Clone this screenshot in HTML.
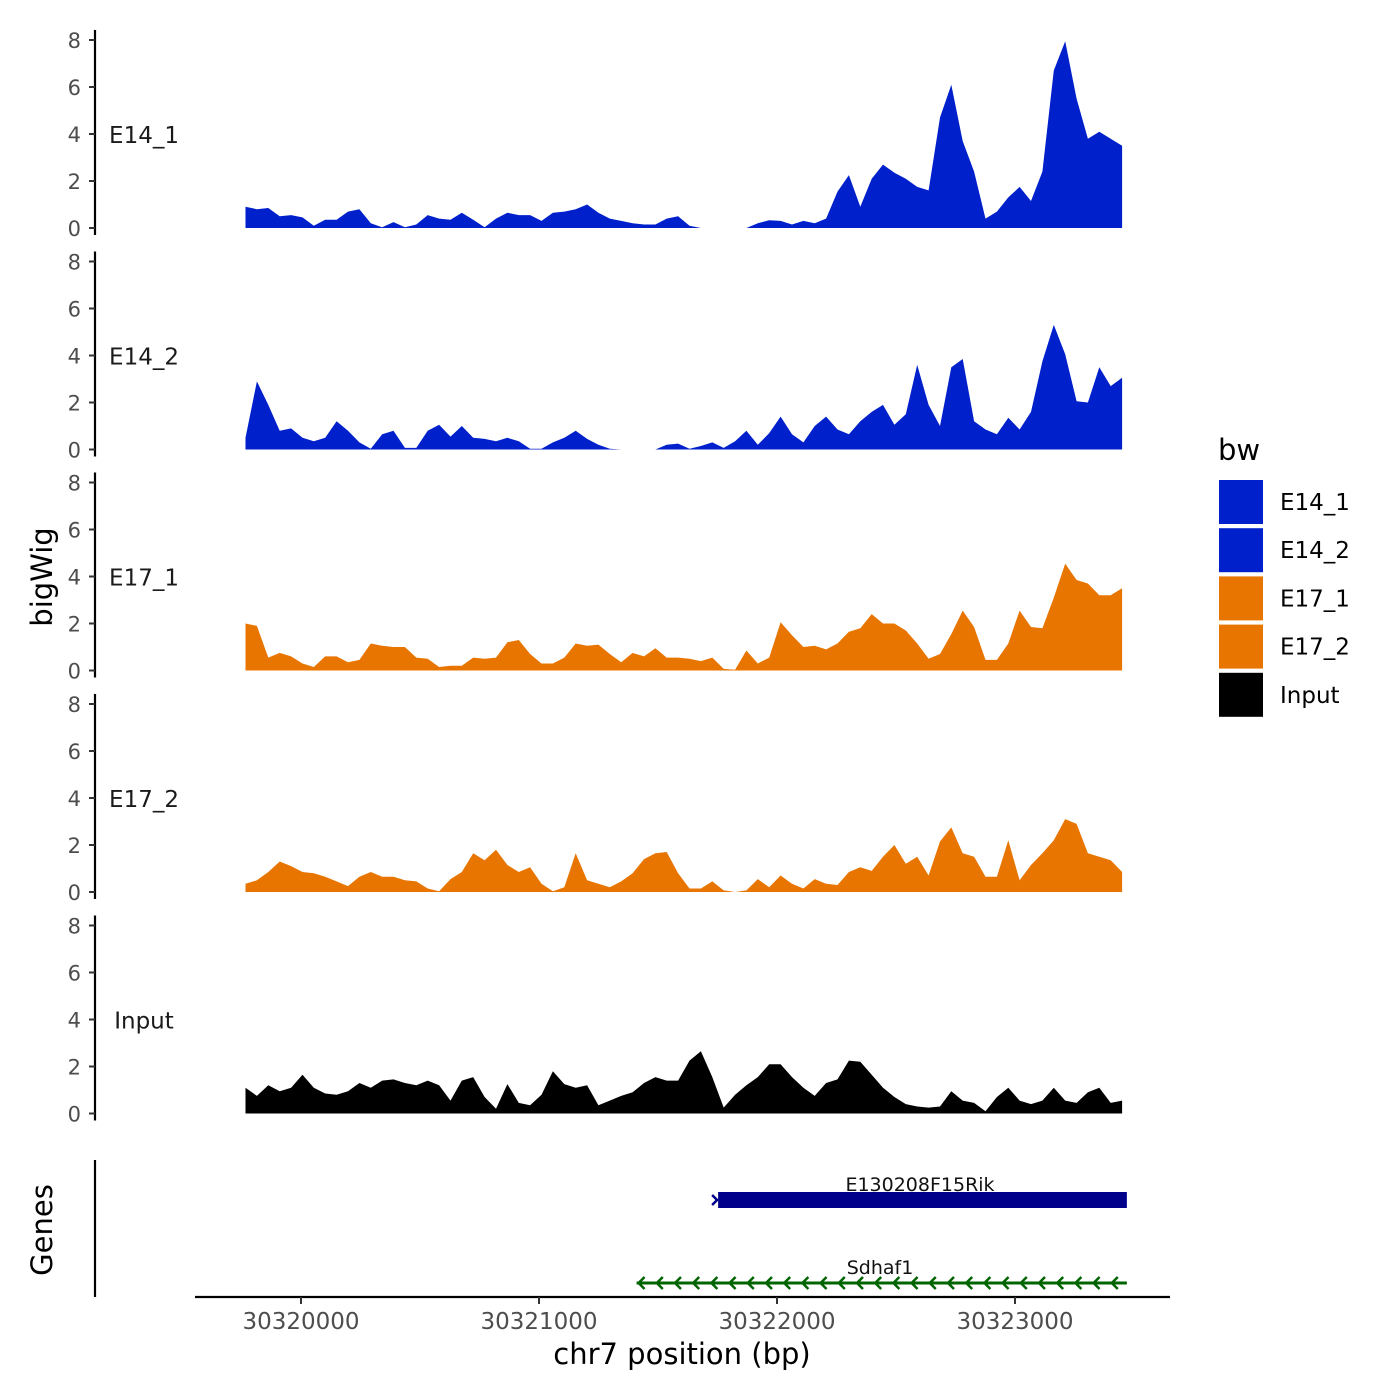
<!DOCTYPE html>
<html><head><meta charset="utf-8"><style>
html,body{margin:0;padding:0;background:#fff;}
svg{display:block;font-family:"DejaVu Sans","Liberation Sans",sans-serif;}
</style></head><body>
<svg id="chart" width="1400" height="1400" viewBox="0 0 1400 1400"></svg>
<script>
const trackNames = ["E14_1","E14_2","E17_1","E17_2","Input"];
const trackColors = ["#0020CC","#0020CC","#E87500","#E87500","#000000"];
const binStart = 30319767;
const binEnd = 30323450;
const e14_1 = [0.9,0.8,0.85,0.5,0.55,0.45,0.1,0.35,0.35,0.7,0.8,0.2,0.03,0.25,0.03,0.15,0.55,0.4,0.35,0.65,0.35,0.03,0.4,0.65,0.55,0.55,0.3,0.65,0.7,0.8,1.0,0.65,0.4,0.3,0.2,0.15,0.15,0.4,0.5,0.1,0,0,0,0,0,0.2,0.33,0.3,0.15,0.3,0.2,0.4,1.55,2.25,0.9,2.1,2.7,2.35,2.1,1.75,1.6,4.7,6.1,3.7,2.4,0.4,0.7,1.3,1.75,1.15,2.4,6.7,7.95,5.5,3.8,4.1,3.8,3.5];
const e14_2 = [0.5,2.9,1.9,0.8,0.9,0.5,0.35,0.5,1.2,0.8,0.3,0.03,0.65,0.8,0.07,0.07,0.8,1.05,0.55,1.0,0.5,0.45,0.35,0.5,0.35,0.03,0.03,0.3,0.5,0.8,0.45,0.2,0.03,0,0,0,0,0.2,0.25,0.03,0.15,0.3,0.07,0.35,0.8,0.2,0.7,1.4,0.65,0.3,1.0,1.4,0.85,0.65,1.2,1.6,1.9,1.05,1.5,3.6,1.9,1.0,3.5,3.85,1.2,0.85,0.65,1.35,0.85,1.6,3.75,5.3,4.05,2.05,2.0,3.5,2.7,3.05];
const e17_1 = [2.0,1.9,0.55,0.75,0.6,0.3,0.15,0.6,0.6,0.35,0.45,1.15,1.05,1.0,1.0,0.55,0.5,0.15,0.2,0.2,0.55,0.5,0.55,1.2,1.3,0.7,0.3,0.3,0.55,1.15,1.05,1.1,0.7,0.35,0.75,0.6,0.95,0.55,0.55,0.5,0.4,0.55,0.07,0.03,0.85,0.3,0.55,2.05,1.5,1.0,1.05,0.9,1.15,1.65,1.8,2.4,2.0,2.0,1.7,1.15,0.5,0.7,1.55,2.55,1.85,0.45,0.45,1.15,2.55,1.85,1.8,3.1,4.55,3.85,3.7,3.2,3.2,3.5];
const e17_2 = [0.35,0.5,0.85,1.3,1.1,0.85,0.8,0.65,0.45,0.25,0.65,0.85,0.65,0.65,0.5,0.45,0.15,0.03,0.55,0.85,1.65,1.35,1.8,1.15,0.85,1.05,0.35,0.03,0.2,1.65,0.5,0.35,0.2,0.45,0.8,1.4,1.65,1.7,0.8,0.15,0.15,0.45,0.07,0,0.07,0.55,0.2,0.7,0.35,0.15,0.55,0.35,0.3,0.85,1.05,0.9,1.5,2.0,1.2,1.5,0.7,2.15,2.75,1.65,1.5,0.65,0.65,2.2,0.5,1.15,1.65,2.2,3.1,2.9,1.65,1.5,1.35,0.85];
const input = [1.1,0.75,1.2,0.95,1.1,1.65,1.1,0.85,0.8,0.95,1.3,1.1,1.4,1.45,1.3,1.2,1.4,1.2,0.55,1.4,1.55,0.7,0.2,1.25,0.45,0.35,0.8,1.8,1.25,1.1,1.2,0.35,0.55,0.75,0.9,1.3,1.55,1.4,1.4,2.25,2.65,1.55,0.25,0.8,1.2,1.55,2.1,2.1,1.55,1.1,0.75,1.3,1.45,2.25,2.2,1.65,1.1,0.7,0.4,0.3,0.25,0.3,0.95,0.55,0.45,0.1,0.7,1.1,0.55,0.4,0.55,1.1,0.55,0.45,0.9,1.1,0.45,0.55];
const trackValues = [e14_1,e14_2,e17_1,e17_2,input];
const yTicks = [0,2,4,6,8];
const xTicks = [30320000,30321000,30322000,30323000];
const genes = [
  {name:"E130208F15Rik", start:30321740, end:30323470, strand:"+", color:"#00008B", row:0},
  {name:"Sdhaf1", start:30321410, end:30323470, strand:"-", color:"#006400", row:1}
];

const NS="http://www.w3.org/2000/svg";
const svg=document.getElementById('chart');
function mk(tag,attrs,parent){const e=document.createElementNS(NS,tag);for(const k in attrs)e.setAttribute(k,attrs[k]);(parent||svg).appendChild(e);return e;}
const xS = bp => 301 + (bp-30320000)*0.238;
const panelBase = [228,449.5,670.5,892,1113.5];
const yPx = 23.5;

trackNames.forEach((nm,t)=>{
  const g=mk('g',{});
  
  
  const base=panelBase[t];
  const vals=trackValues[t];
  const step=(binEnd-binStart)/(vals.length-1);
  let d='M'+xS(binStart).toFixed(1)+','+base;
  vals.forEach((v,i)=>{d+=' L'+xS(binStart+i*step).toFixed(1)+','+(base-v*yPx).toFixed(1);});
  d+=' L'+xS(binEnd).toFixed(1)+','+base+' Z';
  const p=mk('path',{d:d,fill:trackColors[t]},g);
  
  
  const ax=mk('line',{x1:95,x2:95,y1:base-198,y2:base+7,stroke:'#000','stroke-width':2.2},g);
  
  
  yTicks.forEach(v=>{
    const y=base-v*yPx;
    const tk=mk('line',{x1:89,x2:95,y1:y,y2:y,stroke:'#333','stroke-width':2},g);
    
    
    const tl=mk('text',{x:81,y:y+8,'text-anchor':'end','font-size':21,fill:'#4d4d4d'},g);
    tl.textContent=v;
    
    
  });
  const lab=mk('text',{x:144,y:base-85,'text-anchor':'middle','font-size':23,fill:'#1a1a1a'},g);
  lab.textContent=nm;
  
  
});

const gax=mk('line',{x1:95,x2:95,y1:1160,y2:1297,stroke:'#000','stroke-width':2.2});


genes.forEach(gn=>{
  const g=mk('g',{});
  
  
  const x1=xS(gn.start), x2=xS(gn.end);
  if(gn.row===0){
    const r=mk('rect',{x:x1+3,y:1192,width:x2-x1-3,height:16,fill:gn.color},g);
    
    
    const a=mk('path',{d:`M${x1-3},1195 L${x1+2},1200 L${x1-3},1205`,stroke:gn.color,'stroke-width':2.5,fill:'none'},g);
    
    
    const t=mk('text',{x:920,y:1191,'text-anchor':'middle','font-size':19,fill:'#111'},g);
    t.textContent=gn.name;
    
    
  } else {
    const l=mk('line',{x1:x1,x2:x2,y1:1283,y2:1283,stroke:gn.color,'stroke-width':3},g);
    
    
    for(let x=x1+2;x<x2;x+=18.2){
      const a=mk('path',{d:`M${x+6},1277 L${x},1283 L${x+6},1289`,stroke:gn.color,'stroke-width':2.5,fill:'none'},g);
      
      
    }
    const t=mk('text',{x:880,y:1274,'text-anchor':'middle','font-size':19,fill:'#111'},g);
    t.textContent=gn.name;
    
    
  }
});

const xax=mk('line',{x1:195,x2:1170,y1:1297,y2:1297,stroke:'#000','stroke-width':2.2});


xTicks.forEach(v=>{
  const x=xS(v);
  const tk=mk('line',{x1:x,x2:x,y1:1297,y2:1304,stroke:'#333','stroke-width':2});
  
  
  const tl=mk('text',{x:x,y:1329,'text-anchor':'middle','font-size':23,fill:'#4d4d4d'});
  tl.textContent=v;
  
  
});
</script>
<script>
(function(){
const NS="http://www.w3.org/2000/svg";
const svg=document.getElementById('chart');
function mk(tag,attrs){const e=document.createElementNS(NS,tag);for(const k in attrs)e.setAttribute(k,attrs[k]);svg.appendChild(e);return e;}
const xt=mk('text',{x:682,y:1364,'text-anchor':'middle','font-size':29,fill:'#000'});
xt.textContent='chr7 position (bp)';


const yt=mk('text',{x:0,y:0,'text-anchor':'middle','font-size':29,fill:'#000',transform:'translate(52,577) rotate(-90)'});
yt.textContent='bigWig';


const gt=mk('text',{x:0,y:0,'text-anchor':'middle','font-size':29,fill:'#000',transform:'translate(52,1230) rotate(-90)'});
gt.textContent='Genes';


const lt=mk('text',{x:1218,y:460,'font-size':29,fill:'#000'});
lt.textContent='bw';


const names=["E14_1","E14_2","E17_1","E17_2","Input"];
const cols=["#0020CC","#0020CC","#E87500","#E87500","#000000"];
names.forEach((n,i)=>{
  const y=480+i*48.2;
  const r=mk('rect',{x:1219,y:y,width:44,height:44,fill:cols[i]});
  
  
  const t=mk('text',{x:1280,y:y+30,'font-size':23,fill:'#000'});
  t.textContent=n;
  
  
});
})();
</script>
</body></html>
